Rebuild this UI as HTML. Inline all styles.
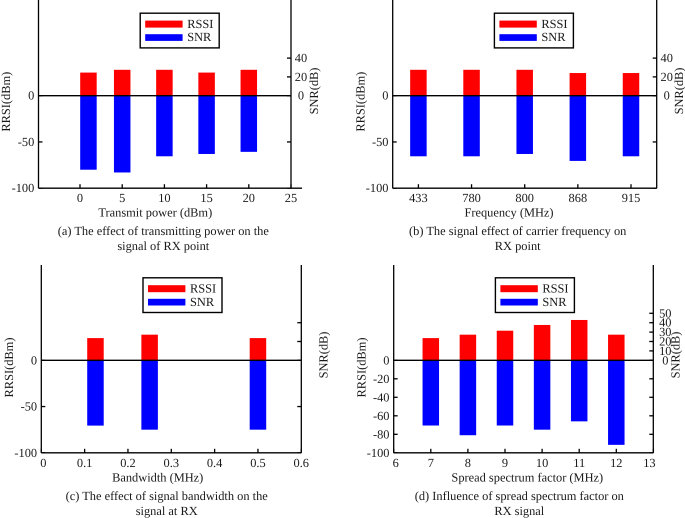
<!DOCTYPE html>
<html lang="en">
<head>
<meta charset="utf-8">
<title>RSSI and SNR charts</title>
<style>
html,body{margin:0;padding:0;background:#fff}
svg{display:block;font-family:"Liberation Serif",serif;font-size:12.4px;fill:#1a1a1a;text-rendering:geometricPrecision}
.mid{text-anchor:middle}
</style>
</head>
<body>
<svg id="figure" width="685" height="518" viewBox="0 0 685 518" xmlns="http://www.w3.org/2000/svg">
  <rect width="685" height="518" fill="#fff"/>
  <g id="panel-a">
    <text class="mid" x="155.3" y="216.5">Transmit power (dBm)</text>
    <text class="mid" transform="translate(10,101.7) rotate(-90)">RRSI(dBm)</text>
    <text class="mid" transform="translate(318,91) rotate(-90)">SNR(dB)</text>
    <text class="mid" x="163.3" y="235">(a) The effect of transmitting power on the</text>
    <text class="mid" x="163.3" y="250">signal of RX point</text>
  </g>
  <g id="panel-b">
    <text class="mid" x="509" y="216.5">Frequency (MHz)</text>
    <text class="mid" transform="translate(364.5,101.7) rotate(-90)">RRSI(dBm)</text>
    <text class="mid" transform="translate(683,91) rotate(-90)">SNR(dB)</text>
    <text class="mid" x="517.7" y="235">(b) The signal effect of carrier frequency on</text>
    <text class="mid" x="517.7" y="250">RX point</text>
  </g>
  <g id="panel-c">
    <text class="mid" x="157.7" y="481.5">Bandwidth (MHz)</text>
    <text class="mid" transform="translate(13,367.5) rotate(-90)">RRSI(dBm)</text>
    <text class="mid" transform="translate(327.5,355) rotate(-90)">SNR(dB)</text>
    <text class="mid" x="166.7" y="500">(c) The effect of signal bandwidth on the</text>
    <text class="mid" x="166.7" y="515">signal at RX</text>
  </g>
  <g id="panel-d">
    <text class="mid" x="527.3" y="481.5">Spread spectrum factor (MHz)</text>
    <text class="mid" transform="translate(365.5,367.5) rotate(-90)">RRSI(dBm)</text>
    <text class="mid" transform="translate(679.5,355) rotate(-90)">SNR(dB)</text>
    <text class="mid" x="519.3" y="500">(d) Influence of spread spectrum factor on</text>
    <text class="mid" x="519.3" y="515">RX signal</text>
  </g>
</svg>
<script>
// Panel (a)
const aTickValues = [0, 5, 10, 15, 20, 25];
const aTickLabels = ['0', '5', '10', '15', '20', '25'];
const aBarPositions = [1, 5, 10, 15, 20];
const aRssi = [25, 28, 28, 25, 28];
const aSnr = [-80, -83, -65.5, -63, -60.7];
// Panel (b)
const bTickValues = [0, 1, 2, 3, 4];
const bTickLabels = ['433', '780', '800', '868', '915'];
const bBarPositions = [0, 1, 2, 3, 4];
const bRssi = [28, 28, 28, 24.5, 24.5];
const bSnr = [-65.5, -65.5, -63, -70.5, -65.5];
// Panel (c)
const cTickValues = [0, 0.1, 0.2, 0.3, 0.4, 0.5, 0.6];
const cTickLabels = ['0', '0.1', '0.2', '0.3', '0.4', '0.5', '0.6'];
const cBarPositions = [0.125, 0.25, 0.5];
const cRssi = [24, 27.7, 24];
const cSnr = [-70.6, -75, -75];
// Panel (d)
const dTickValues = [6, 7, 8, 9, 10, 11, 12, 13];
const dTickLabels = ['6', '7', '8', '9', '10', '11', '12', '13'];
const dBarPositions = [7, 8, 9, 10, 11, 12];
const dRssi = [24, 27.7, 32, 38.2, 43.6, 27.7];
const dSnr = [-70.5, -81, -70.5, -75, -66, -91.4];
// Vertical axis ticks
const leftTicksCoarse = [0, -50, -100];
const leftTicksFine = [0, -20, -40, -60, -80, -100];
const rightTicksCoarse = [0, 20, 40];
const rightTicksFine = [0, 10, 20, 30, 40, 50];

const NS = 'http://www.w3.org/2000/svg';

function make(parent, tag, attrs, text) {
  const el = document.createElementNS(NS, tag);
  for (const key in attrs) el.setAttribute(key, attrs[key]);
  if (text !== undefined) el.textContent = text;
  parent.appendChild(el);
  return el;
}

function drawPanel(p) {
  const root = document.getElementById(p.id);
  const yLeft = v => p.zero - v * 0.925;
  const yRight = v => p.zero - v * 0.94;
  const xAt = v => p.xOrigin + (v - p.xStart) * p.xStep;
  const bottom = yLeft(-100);

  p.positions.forEach((pos, i) => {
    const cx = xAt(pos);
    const red = make(root, 'rect', {x: cx - 8.25, y: yLeft(p.rssi[i]), width: 16.5, height: p.zero - yLeft(p.rssi[i]), fill: '#ff0000'});
    
    
    const blue = make(root, 'rect', {x: cx - 8.25, y: p.zero, width: 16.5, height: yLeft(p.snr[i]) - p.zero, fill: '#0000ff'});
    
    
  });

  const stroke = {stroke: '#000', 'stroke-width': 1.3, fill: 'none'};
  const leftAxis = make(root, 'line', {x1: p.left, x2: p.left, y1: p.top, y2: bottom, ...stroke});
  
  
  const rightAxis = make(root, 'line', {x1: p.right, x2: p.right, y1: p.top, y2: bottom, ...stroke});
  
  
  const xAxis = make(root, 'line', {x1: p.left, x2: p.xEnd, y1: bottom, y2: bottom, ...stroke});
  
  
  const zeroLine = make(root, 'line', {x1: p.left, x2: p.right, y1: p.zero, y2: p.zero, ...stroke});
  
  

  p.tickValues.forEach((v, i) => {
    const x = xAt(v);
    const tick = make(root, 'line', {x1: x, x2: x, y1: bottom, y2: bottom - 4, ...stroke});
    
    
    const label = make(root, 'text', {x: x + p.tickShift(i), y: bottom + 14, 'text-anchor': 'middle'}, p.tickLabels[i]);
    
    
  });

  p.leftTicks.forEach(v => {
    const y = yLeft(v);
    const tick = make(root, 'line', {x1: p.left, x2: p.left + 4, y1: y, y2: y, ...stroke});
    
    
    const mirror = make(root, 'line', {x1: p.right, x2: p.right - 4, y1: y, y2: y, ...stroke});
    
    
    const label = make(root, 'text', {x: p.left - 4.2, y: y + 4, 'text-anchor': 'end'}, String(v));
    
    
  });

  p.rightTicks.forEach(v => {
    const y = yRight(v);
    const tick = make(root, 'line', {x1: p.right, x2: p.right - 4, y1: y, y2: y, ...stroke});
    
    
    if (p.rightLabelGap) {
      const label = make(root, 'text', {x: p.right + p.rightLabelGap, y: y + 4, 'text-anchor': 'middle'}, String(v));
      
      
    }
  });

  const lx = p.left + 101.7;
  const ly = p.zero - 82.5;
  const legend = make(root, 'g', {});
  
  
  make(legend, 'rect', {x: lx, y: ly, width: 79, height: 34.7, fill: '#fff', stroke: '#000', 'stroke-width': 1.4});
  const redKey = make(legend, 'rect', {x: lx + 5, y: ly + 7.4, width: 37.4, height: 7, fill: '#ff0000'});
  
  
  const blueKey = make(legend, 'rect', {x: lx + 5, y: ly + 21, width: 37.4, height: 6.7, fill: '#0000ff'});
  
  
  const redText = make(legend, 'text', {x: lx + 47, y: ly + 14.7}, 'RSSI');
  
  
  const blueText = make(legend, 'text', {x: lx + 47, y: ly + 28}, 'SNR');
  
  
}

drawPanel({id: 'panel-a', left: 38.5, right: 291, xEnd: 302, top: 0, zero: 95.7,
  xOrigin: 80, xStart: 0, xStep: 8.44,
  tickValues: aTickValues, tickLabels: aTickLabels, tickShift: () => 0,
  positions: aBarPositions, rssi: aRssi, snr: aSnr,
  leftTicks: leftTicksCoarse, rightTicks: rightTicksCoarse, rightLabelGap: 10});

drawPanel({id: 'panel-b', left: 392.7, right: 656.7, xEnd: 656.7, top: 0, zero: 95.7,
  xOrigin: 418.4, xStart: 0, xStep: 53.15,
  tickValues: bTickValues, tickLabels: bTickLabels, tickShift: () => 0,
  positions: bBarPositions, rssi: bRssi, snr: bSnr,
  leftTicks: leftTicksCoarse, rightTicks: rightTicksCoarse, rightLabelGap: 10});

drawPanel({id: 'panel-c', left: 41.3, right: 301.3, xEnd: 301.3, top: 265, zero: 360.3,
  xOrigin: 41.3, xStart: 0, xStep: 433.3,
  tickValues: cTickValues, tickLabels: cTickLabels, tickShift: i => (i === 0 ? 2 : 0),
  positions: cBarPositions, rssi: cRssi, snr: cSnr,
  leftTicks: leftTicksCoarse, rightTicks: rightTicksCoarse, rightLabelGap: 0});

drawPanel({id: 'panel-d', left: 393.7, right: 653.3, xEnd: 653.3, top: 265, zero: 360.3,
  xOrigin: 393.7, xStart: 6, xStep: 37.1,
  tickValues: dTickValues, tickLabels: dTickLabels, tickShift: i => (i === 0 ? 2 : i === 7 ? -4 : 0),
  positions: dBarPositions, rssi: dRssi, snr: dSnr,
  leftTicks: leftTicksFine, rightTicks: rightTicksFine, rightLabelGap: 12});
</script>
</body>
</html>
